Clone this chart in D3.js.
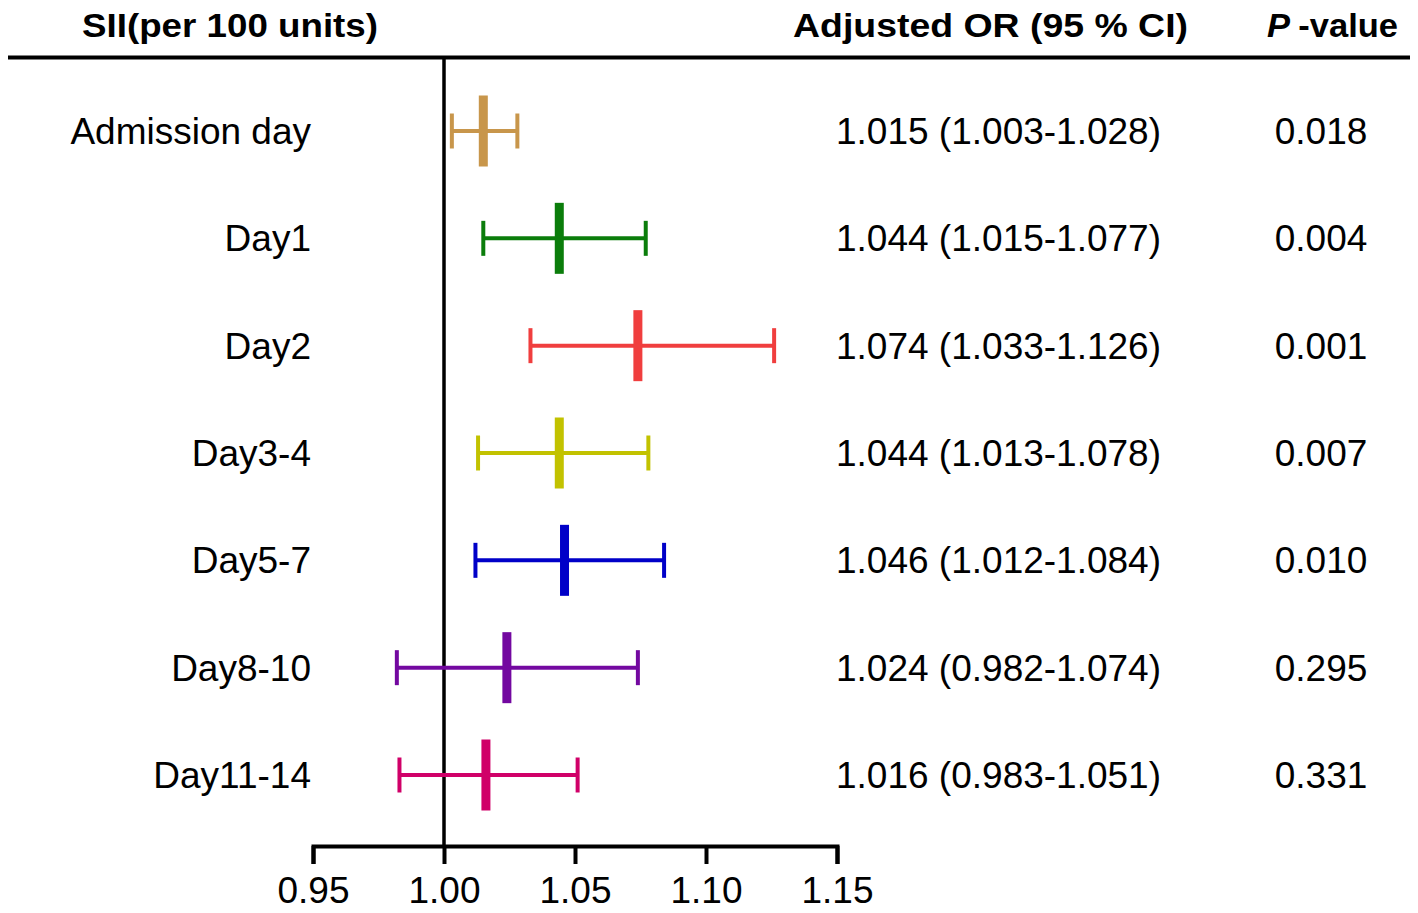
<!DOCTYPE html>
<html>
<head>
<meta charset="utf-8">
<script src="https://cdn.jsdelivr.net/npm/d3@7"></script>
<style>
  body { margin: 0; background: #fff; }
  text { font-family: "Liberation Sans", Arial, sans-serif; fill: #000; }
</style>
</head>
<body>
<svg id="chart" width="1418" height="913"></svg>
<script>
// rows of the forest plot
var labels = ["Admission day", "Day1", "Day2", "Day3-4", "Day5-7", "Day8-10", "Day11-14"];
var orValues = [1.015, 1.044, 1.074, 1.044, 1.046, 1.024, 1.016];
var ciLow = [1.003, 1.015, 1.033, 1.013, 1.012, 0.982, 0.983];
var ciHigh = [1.028, 1.077, 1.126, 1.078, 1.084, 1.074, 1.051];
var pValues = ["0.018", "0.004", "0.001", "0.007", "0.010", "0.295", "0.331"];
var colors = ["#c8964b", "#0b7d0b", "#f03e3e", "#c2c200", "#0000c8", "#7308a0", "#d00068"];
var xTicks = [0.95, 1.00, 1.05, 1.10, 1.15];

var svg = d3.select("#chart");

//scales
var x = d3.scaleLinear()
    .domain([0.95, 1.15])
    .range([313, 837]);

var y = d3.scalePoint()
    .domain(labels)
    .range([131, 775]);

var axisY = 846;

//header texts and rule
var headers = [
    {text: "SII(per 100 units)", x: 82, len: 296},
    {text: "Adjusted OR (95 % CI)", x: 793, len: 395}
];
svg.selectAll(".header")
    .data(headers)
    .enter()
    .append("text")
    .attr("class", "header")
    .attr("x", function(d) { return d.x; })
    .attr("y", 37)
    .attr("textLength", function(d) { return d.len; })
    .attr("lengthAdjust", "spacingAndGlyphs")
    .style("font-size", "32.5px")
    .style("font-weight", "bold")
    .text(function(d) { return d.text; });

var pHead = svg.append("text")
    .attr("x", 1267)
    .attr("y", 37)
    .attr("textLength", 131)
    .attr("lengthAdjust", "spacingAndGlyphs")
    .style("font-size", "32.5px")
    .style("font-weight", "bold");
pHead.append("tspan").style("font-style", "italic").text("P ");
pHead.append("tspan").text("-value");

svg.append("line")
    .attr("x1", 8).attr("x2", 1410)
    .attr("y1", 57.5).attr("y2", 57.5)
    .attr("stroke", "#000")
    .attr("stroke-width", 4);

//reference line at OR = 1
svg.append("line")
    .attr("x1", x(1)).attr("x2", x(1))
    .attr("y1", 58).attr("y2", axisY)
    .attr("stroke", "#000")
    .attr("stroke-width", 3.5);

//x axis
var xAxis = d3.axisBottom(x)
    .tickValues(xTicks)
    .tickFormat(d3.format(".2f"))
    .tickSize(18)
    .tickSizeOuter(18)
    .tickPadding(13);

var gx = svg.append("g")
    .attr("transform", "translate(0," + axisY + ")")
    .call(xAxis);
gx.select(".domain").attr("stroke-width", 4);
gx.selectAll(".tick line").attr("stroke-width", 4);
gx.selectAll(".tick text")
    .style("font-size", "37px")
    .style("font-family", "'Liberation Sans', Arial, sans-serif");

//rows
var rows = labels.map(function(d, i) {
    return {label: d, or: orValues[i], lo: ciLow[i], hi: ciHigh[i], p: pValues[i], color: colors[i]};
});

var row = svg.selectAll(".row")
    .data(rows)
    .enter()
    .append("g")
    .attr("class", "row")
    .attr("transform", function(d) { return "translate(0," + y(d.label) + ")"; });

//CI line
row.append("line")
    .attr("x1", function(d) { return x(d.lo); })
    .attr("x2", function(d) { return x(d.hi); })
    .attr("stroke", function(d) { return d.color; })
    .attr("stroke-width", 4);

//caps
row.selectAll(".cap")
    .data(function(d) { return [{v: d.lo, c: d.color}, {v: d.hi, c: d.color}]; })
    .enter()
    .append("line")
    .attr("class", "cap")
    .attr("x1", function(d) { return x(d.v); })
    .attr("x2", function(d) { return x(d.v); })
    .attr("y1", -17.5).attr("y2", 17.5)
    .attr("stroke", function(d) { return d.c; })
    .attr("stroke-width", 4);

//point estimate
row.append("rect")
    .attr("x", function(d) { return x(d.or) - 4.5; })
    .attr("y", -35.5)
    .attr("width", 9)
    .attr("height", 71)
    .attr("fill", function(d) { return d.color; });

//labels
row.append("text")
    .attr("x", 311)
    .attr("y", 13)
    .attr("text-anchor", "end")
    .style("font-size", "37px")
    .text(function(d) { return d.label; });

row.append("text")
    .attr("x", 836)
    .attr("y", 13)
    .style("font-size", "37px")
    .text(function(d) {
        return d3.format(".3f")(d.or) + " (" + d3.format(".3f")(d.lo) + "-" + d3.format(".3f")(d.hi) + ")";
    });

row.append("text")
    .attr("x", 1321)
    .attr("y", 13)
    .attr("text-anchor", "middle")
    .style("font-size", "37px")
    .text(function(d) { return d.p; });
</script>
</body>
</html>
